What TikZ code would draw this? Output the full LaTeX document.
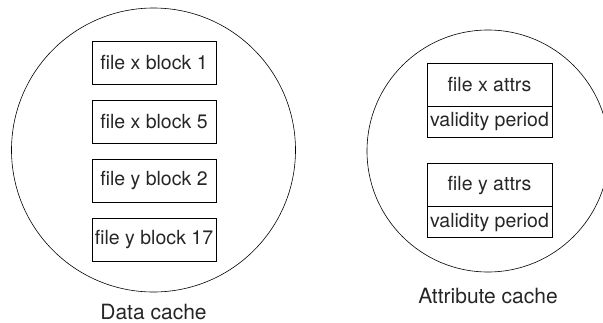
\documentclass[tikz,border=0pt]{standalone}
\usepackage{fontspec}
\setmainfont{TeX Gyre Heros}
\usepackage{xcolor}
\usetikzlibrary{positioning}

\tikzset{
  cache/.style={draw, circle, line width=0.6pt, inner sep=0pt},
  blk/.style={draw, line width=0.8pt, minimum width=124pt, minimum height=43pt,
    inner sep=0pt, text=black!85, font=\fontsize{19.5}{22}\selectfont},
  valid/.style={blk, minimum height=31pt},
  rotulo/.style={text=black!85, font=\fontsize{21}{24}\selectfont}
}

\begin{document}
\begin{tikzpicture}[x=1pt, y=-1pt]
  \clip (0,0) rectangle (603,322);

  % Cache de dados
  \node[cache, minimum size=284pt] (dados) at (153.5,150) {};
  \node[blk] (xb1) at (154,63) {file x block 1};
  \node[blk, below=15pt of xb1] (xb5) {file x block 5};
  \node[blk, below=15pt of xb5] (yb2) {file y block 2};
  \node[blk, below=15pt of yb2] (yb17) {file y block 17};
  \node[rotulo] (ldados) at (153.5,311.5) {Data cache};

  % Cache de atributos
  \node[cache, minimum size=242pt] (atrib) at (488,151) {};
  \node[blk, minimum width=125pt] (xattr) at (489.5,84.5) {file x attrs};
  \node[valid, minimum width=125pt, below=-0.8pt of xattr] (xval) {validity period};
  \node[blk, minimum width=125pt, below=26pt of xval] (yattr) {file y attrs};
  \node[valid, minimum width=125pt, below=-0.8pt of yattr] (yval) {validity period};
  \node[rotulo] (latrib) at (488,296) {Attribute cache};
\end{tikzpicture}
\end{document}
